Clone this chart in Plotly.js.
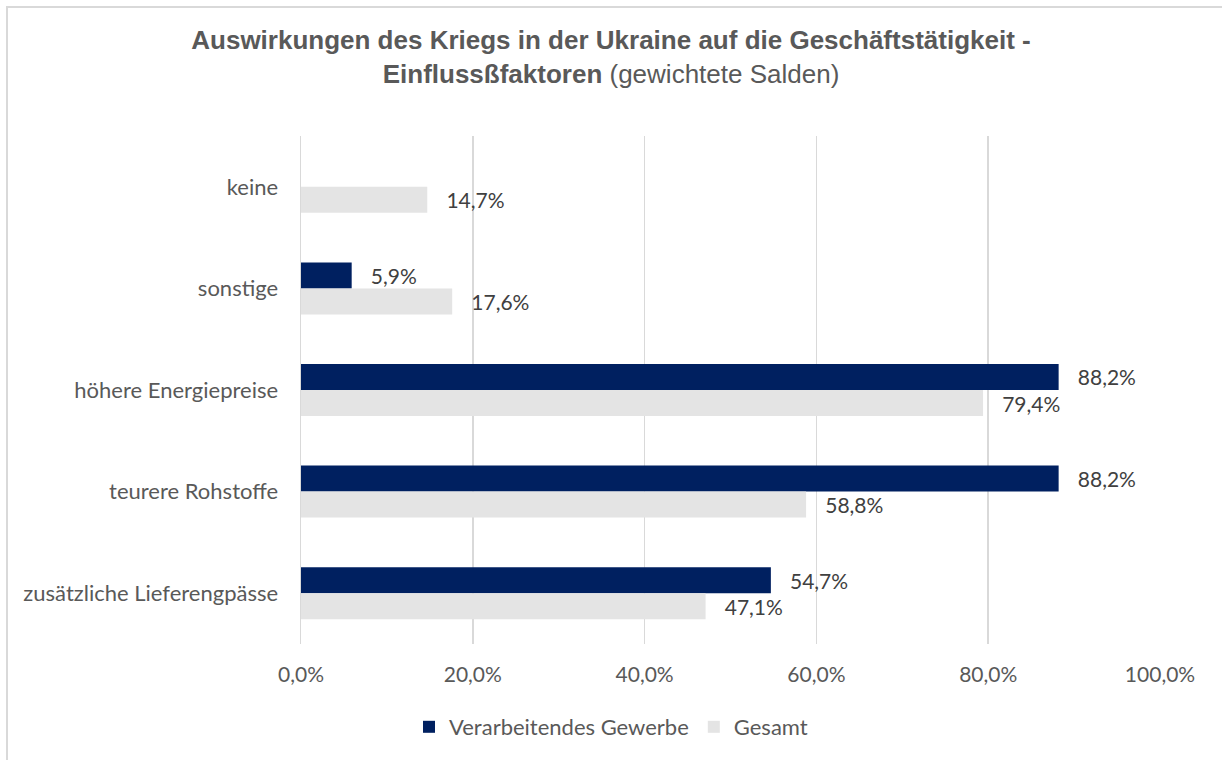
<!DOCTYPE html>
<html>
<head>
<meta charset="utf-8">
<script src="https://cdn.plot.ly/plotly-3.0.1.min.js"></script>
<style>
  html, body { margin: 0; padding: 0; background: #ffffff; }
  #chart { width: 1222px; height: 760px; position: relative; }
  #frame { position: absolute; left: 6px; top: 6px; width: 1216px; height: 754px;
           border-left: 2px solid #d9d9d9; border-top: 2px solid #d9d9d9;
           pointer-events: none; box-sizing: border-box; }
</style>
</head>
<body>
<div id="chart"></div>
<div id="frame"></div>
<script>
const categories = ["keine", "sonstige", "höhere Energiepreise", "teurere Rohstoffe", "zusätzliche Lieferengpässe"];
const verarbeitendesGewerbe = [null, 5.9, 88.2, 88.2, 54.7];
const gesamt = [14.7, 17.6, 79.4, 58.8, 47.1];
const seriesNames = ["Verarbeitendes Gewerbe", "Gesamt"];
const xTickValues = [0, 20, 40, 60, 80, 100];
const xTickLabels = ["0,0%", "20,0%", "40,0%", "60,0%", "80,0%", "100,0%"];

const FONT = "Lato, 'Open Sans', sans-serif";

const common = {
  type: "bar",
  orientation: "h",
  y: categories,
  textposition: "outside",
  texttemplate: "\u00a0\u00a0\u00a0%{x:.1f}%",
  textfont: { family: FONT, size: 21, color: "#404040" },
  cliponaxis: false,
  constraintext: "none",
  hoverinfo: "skip"
};

const traces = [
  Object.assign({}, common, {
    name: seriesNames[0],
    x: verarbeitendesGewerbe,
    marker: { color: "#002060", line: { width: 0 } }
  }),
  Object.assign({}, common, {
    name: seriesNames[1],
    x: gesamt,
    marker: { color: "#e4e4e4", line: { width: 0 } }
  })
];

const layout = {
  width: 1222,
  height: 760,
  paper_bgcolor: "#ffffff",
  plot_bgcolor: "#ffffff",
  separators: ",.",
  barmode: "group",
  bargap: 0.488,
  bargroupgap: 0,
  margin: { l: 301, r: 62, t: 136, b: 116 },
  title: {
    text: "<b>Auswirkungen des Kriegs in der Ukraine auf die Geschäftstätigkeit -</b><br><b>Einflussßfaktoren</b> (gewichtete Salden)",
    font: { family: "'Liberation Sans', Arial, sans-serif", size: 26, color: "#595959" },
    x: 0.5, xref: "container", xanchor: "center",
    y: 1 - 49 / 760, yref: "container", yanchor: "middle"
  },
  xaxis: {
    range: [0, 100],
    tickmode: "array",
    tickvals: xTickValues,
    ticktext: xTickLabels,
    showgrid: true,
    gridcolor: "#d9d9d9",
    gridwidth: 1.5,
    zeroline: false,
    showline: false,
    ticks: "outside",
    ticklen: 12,
    tickcolor: "rgba(0,0,0,0)",
    tickfont: { family: FONT, size: 21, color: "#595959" },
    fixedrange: true
  },
  yaxis: {
    type: "category",
    autorange: "reversed",
    showgrid: false,
    zeroline: false,
    showline: true,
    linecolor: "#d9d9d9",
    linewidth: 1.5,
    ticks: "outside",
    ticklen: 17,
    tickcolor: "rgba(0,0,0,0)",
    tickfont: { family: FONT, size: 22, color: "#595959" },
    fixedrange: true
  },
  showlegend: true,
  legend: {
    orientation: "h",
    xref: "container", x: 0.5, xanchor: "center",
    yref: "container", y: 1 - 727 / 760, yanchor: "middle",
    font: { family: FONT, size: 22, color: "#595959" },
    traceorder: "normal",
    itemclick: false
  }
};

Plotly.newPlot("chart", traces, layout, { displayModeBar: false, staticPlot: true });
</script>
</body>
</html>
